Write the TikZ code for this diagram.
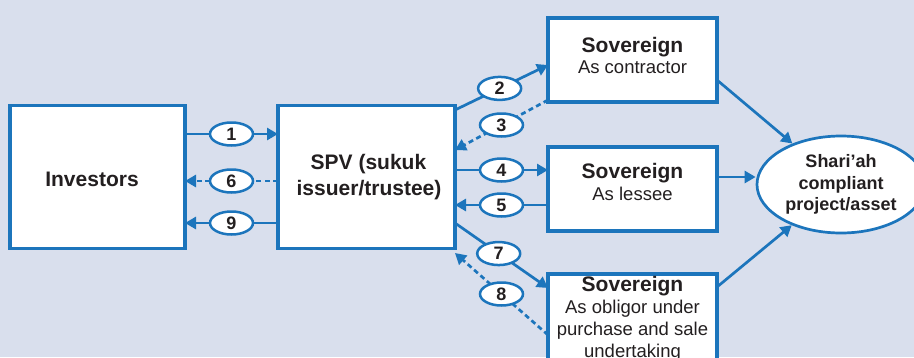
\documentclass[tikz,border=0pt]{standalone}
\usepackage{fontspec}
\setmainfont{Liberation Sans}
\usetikzlibrary{shapes.geometric,arrows.meta}
\definecolor{bg}{HTML}{D9DFED}
\definecolor{ln}{HTML}{1C75BC}
\definecolor{ink}{HTML}{231F20}

\begin{document}
\begin{tikzpicture}[x=1pt,y=-1pt,
  box/.style={draw=ln, fill=white, line width=3.2pt, rectangle, outer sep=0pt, inner sep=0pt},
  conn/.style={draw=ln, line width=2.7pt, -{Triangle[length=11pt,width=12pt]}},
  dconn/.style={conn, dash pattern=on 5pt off 3.5pt},
  num/.style={ellipse, solid, draw=ln, fill=white, line width=2.5pt, minimum width=43pt,
    minimum height=23pt, inner sep=0pt, text=ink, font=\bfseries\fontsize{18}{18}\selectfont},
  big/.style={text=ink, anchor=base, inner sep=0pt, font=\bfseries\fontsize{21}{21}\selectfont},
  small/.style={text=ink, anchor=base, inner sep=0pt, font=\fontsize{18.5}{18.5}\selectfont},
]
% canvas
\useasboundingbox (0,0) rectangle (914,357);
\clip (0,0) rectangle (914,357);
\fill[bg] (0,0) rectangle (914,357);

% boxes
\node[box, minimum width=175pt, minimum height=143pt] (inv) at (97.5,177) {};
\node[box, minimum width=177pt, minimum height=143pt] (spv) at (366.5,177) {};
\node[box, minimum width=169pt, minimum height=84pt] (sov1) at (632.5,60) {};
\node[box, minimum width=169pt, minimum height=84pt] (sov2) at (632.5,189) {};
\node[box, minimum width=169pt, minimum height=110pt] (sov3) at (632.5,329) {};
\node[ellipse, draw=ln, fill=white, line width=2.7pt, minimum width=168pt, minimum height=97pt,
  inner sep=0pt, align=center, text=ink, font=\bfseries\fontsize{18}{21.5}\selectfont]
  (ell) at (841,184.5) {Shari’ah\\compliant\\project/asset};

% box texts
\node[big] (invt) at (92,186) {Investors};
\node[big] (spvt1) at (368.5,169) {SPV (sukuk};
\node[big] (spvt2) at (369,195) {issuer/trustee)};
\node[big] (s1t) at (632.5,52) {Sovereign};
\node[small] (s1s) at (632.5,73) {As contractor};
\node[big] (s2t) at (632.5,178) {Sovereign};
\node[small] (s2s) at (632.5,200) {As lessee};
\node[big] (s3t) at (632.5,291) {Sovereign};
\node[small] (s3a) at (632.5,313) {As obligor under};
\node[small] (s3b) at (632.5,335) {purchase and sale};
\node[small] (s3c) at (632.5,357) {undertaking};

% flows between investors and SPV
\draw[conn] (inv.east |- 0,134) -- node[num]{1} (spv.west |- 0,134);
\draw[dconn] (spv.west |- 0,181) -- node[num]{6} (inv.east |- 0,181);
\draw[conn] (spv.west |- 0,223) -- node[num]{9} (inv.east |- 0,223);

% flows between SPV and sovereign
\draw[conn] (spv.east |- 0,110) -- node[num,pos=0.48]{2} (sov1.west |- 0,65);
\draw[dconn] (sov1.west |- 0,100) -- node[num]{3} (spv.east |- 0,150);
\draw[conn] (spv.east |- 0,170) -- node[num]{4} (sov2.west |- 0,170);
\draw[conn] (sov2.west |- 0,205) -- node[num]{5} (spv.east |- 0,205);
\draw[conn] (spv.east |- 0,223) -- node[num,pos=0.47]{7} (sov3.west |- 0,288);
\draw[dconn] (sov3.west |- 0,335) -- node[num]{8} (spv.east |- 0,253);

% sovereign to asset
\draw[conn] (sov1.east |- 0,80) -- (ell);
\draw[conn] (sov2.east |- 0,177) -- (ell.west |- 0,177);
\draw[conn] (sov3.east |- 0,287) -- (ell);
\end{tikzpicture}
\end{document}
